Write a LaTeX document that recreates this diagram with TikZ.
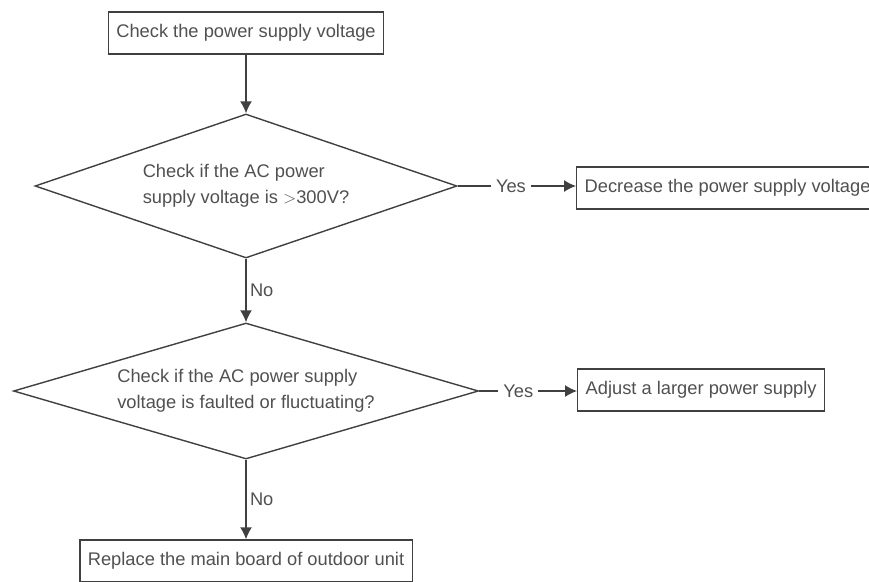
\documentclass[tikz,border=0pt]{standalone}
\usepackage{fontspec}
\setmainfont{Liberation Sans}
\usetikzlibrary{arrows.meta,shapes.geometric}
\definecolor{linegray}{HTML}{404040}
\definecolor{textgray}{HTML}{505050}

\begin{document}
\begin{tikzpicture}[x=1pt,y=-1pt,line width=1.4pt,
  every node/.style={font=\fontsize{18.3}{26.5}\selectfont,text=textgray},
  procbox/.style={draw=linegray,rectangle,inner xsep=8pt,inner ysep=0pt,minimum height=42pt},
  decision/.style={draw=linegray,diamond,inner sep=0pt,align=left},
  flow/.style={draw=linegray,-{Latex[length=12pt,width=12pt]}},
  lab/.style={fill=white,inner xsep=5pt,inner ysep=2pt}]
\useasboundingbox (0,0) rectangle (869,581);
\node[procbox] (chk) at (246,33) {Check the power supply voltage};
\node[decision,aspect=2.93,minimum width=422pt,minimum height=144pt] (q1) at (246,186)
  {Check if the AC power\\supply voltage is $>$300V?};
\node[procbox,anchor=west] (dec) at (576,188) {Decrease the power supply voltage};
\node[decision,aspect=3.42,minimum width=465pt,minimum height=136pt] (q2) at (246,391)
  {Check if the AC power supply\\voltage is faulted or fluctuating?};
\node[procbox,anchor=west] (adj) at (577,390) {Adjust a larger power supply};
\node[procbox] (rep) at (246,561) {Replace the main board of outdoor unit};
\draw[flow] (chk) -- (q1);
\draw[flow] (q1.east) -- (q1.east -| dec.west) node[lab,pos=0.45] {Yes};
\draw[flow] (q1) -- (q2) node[pos=0.5,right] {No};
\draw[flow] (q2.east) -- (q2.east -| adj.west) node[lab,pos=0.40] {Yes};
\draw[flow] (q2) -- (rep) node[pos=0.5,right] {No};
\end{tikzpicture}
\end{document}
